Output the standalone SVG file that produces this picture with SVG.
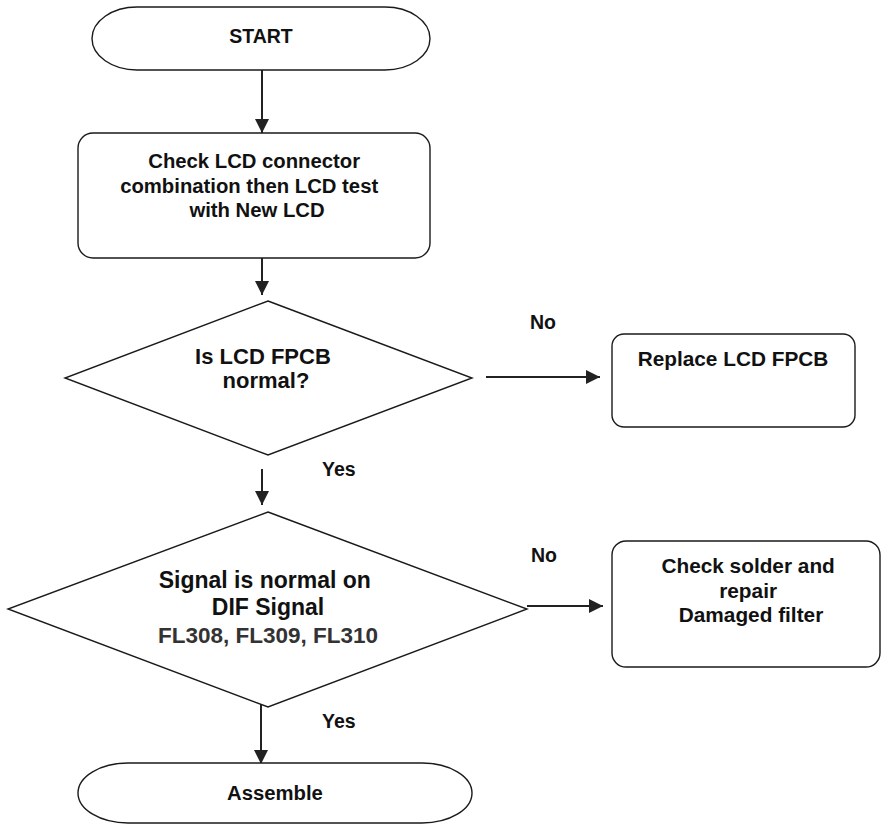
<svg xmlns="http://www.w3.org/2000/svg" width="882" height="825" viewBox="0 0 882 825">
  <style>
    .shape { fill: #ffffff; stroke: #1a1a1a; stroke-width: 1.4; }
    .link { fill: none; stroke: #222222; stroke-width: 2; }
    text { font-family: "Liberation Sans", Arial, sans-serif; font-weight: bold; fill: #111111; text-anchor: middle; }
    .lbl { text-anchor: start; font-size: 19.5px; }
    .code { fill: #333333; }
  </style>
  <defs>
    <marker id="arrow" markerUnits="userSpaceOnUse" markerWidth="14" markerHeight="14" viewBox="0 0 14 14" refX="14" refY="7" orient="auto">
      <path d="M0,0 L14,7 L0,14 Z" fill="#222222"/>
    </marker>
  </defs>

  <rect width="882" height="825" fill="#ffffff"/>

  <!-- connectors -->
  <g id="connectors">
    <line class="link" x1="262" y1="70" x2="262" y2="133" marker-end="url(#arrow)"/>
    <line class="link" x1="262" y1="258" x2="262" y2="295" marker-end="url(#arrow)"/>
    <line class="link" x1="486" y1="377" x2="600" y2="377" marker-end="url(#arrow)"/>
    <line class="link" x1="262" y1="469" x2="262" y2="505" marker-end="url(#arrow)"/>
    <line class="link" x1="527" y1="606" x2="603" y2="606" marker-end="url(#arrow)"/>
    <line class="link" x1="261" y1="704" x2="261" y2="764" marker-end="url(#arrow)"/>
    <text class="lbl" x="530" y="329">No</text>
    <text class="lbl" x="322" y="476">Yes</text>
    <text class="lbl" x="531" y="562">No</text>
    <text class="lbl" x="322" y="728">Yes</text>
  </g>

  <g id="start">
    <rect class="shape" x="92" y="7" width="338" height="63" rx="45" ry="31.5"/>
    <text x="261" y="43" font-size="19.5">START</text>
  </g>

  <g id="check-lcd">
    <rect class="shape" x="78" y="133" width="352" height="125" rx="15"/>
    <text font-size="20.3">
      <tspan x="257" y="168">Check LCD connector</tspan>
      <tspan x="252" y="193">combination then LCD test</tspan>
      <tspan x="257" y="217">with New LCD</tspan>
    </text>
  </g>

  <g id="fpcb-normal">
    <polygon class="shape" points="268,301 472,378 268,455 65,378"/>
    <text font-size="22">
      <tspan x="266" y="364">Is LCD FPCB</tspan>
      <tspan x="266" y="388">normal?</tspan>
    </text>
  </g>

  <g id="replace-fpcb">
    <rect class="shape" x="612" y="334" width="243" height="93" rx="12"/>
    <text x="733" y="366" font-size="20.8">Replace LCD FPCB</text>
  </g>

  <g id="dif-signal">
    <polygon class="shape" points="268,512 527,609 268,707 8,609"/>
    <text font-size="23">
      <tspan x="268" y="588">Signal is normal on</tspan>
      <tspan x="268" y="615">DIF Signal</tspan>
    </text>
    <text class="code" x="268" y="643" font-size="22.5">FL308, FL309, FL310</text>
  </g>

  <g id="repair-filter">
    <rect class="shape" x="612" y="541" width="268" height="126" rx="14"/>
    <text font-size="20.8">
      <tspan x="751" y="573">Check solder and</tspan>
      <tspan x="751" y="598">repair</tspan>
      <tspan x="751" y="622">Damaged filter</tspan>
    </text>
  </g>

  <g id="assemble">
    <rect class="shape" x="78" y="763" width="394" height="60" rx="50" ry="30"/>
    <text x="275" y="800" font-size="20.3">Assemble</text>
  </g>
</svg>
